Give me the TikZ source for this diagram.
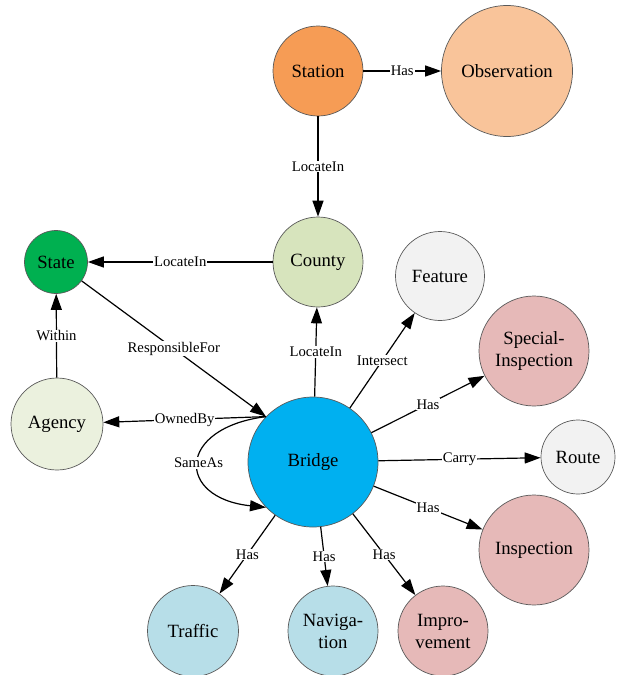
\documentclass[tikz,border=0pt]{standalone}
\usepackage{fontspec}
\setmainfont{Liberation Serif}
\newfontfamily\tnr{Liberation Serif}
\usetikzlibrary{arrows.meta}

\definecolor{stationc}{HTML}{F69C55}
\definecolor{obsc}{HTML}{F9C49A}
\definecolor{countyc}{HTML}{D7E4BD}
\definecolor{statec}{HTML}{00B050}
\definecolor{agencyc}{HTML}{EBF1DE}
\definecolor{bridgec}{HTML}{00B0F0}
\definecolor{greyc}{HTML}{F2F2F2}
\definecolor{pinkc}{HTML}{E6B9B8}
\definecolor{bluec}{HTML}{B7DEE8}

\begin{document}
\begin{tikzpicture}[
    x=1pt, y=-1pt,
    -{Triangle[length=16pt,width=11pt]},
    line width=1.2pt
]
\tikzstyle{unit}=[circle, draw=black!65, line width=0.7pt, inner sep=0pt, align=center, font=\tnr\fontsize{18.7}{22}\selectfont]
\tikzstyle{lbl}=[fill=white, inner sep=1pt, font=\tnr\fontsize{14.7}{16}\selectfont]

\useasboundingbox (0,0) rectangle (617,675);

% Upper row
\node[unit, fill=stationc, minimum size=90pt] (station) at (318,71) {Station};
\node[unit, fill=obsc, minimum size=131pt] (obs) at (507,71) {Observation};

% Middle
\node[unit, fill=countyc, minimum size=90pt] (county) at (318,262) {County};
\node[unit, fill=statec, minimum size=63pt] (state) at (56,262) {State};
\node[unit, fill=greyc, minimum size=89pt] (feature) at (440,276) {Feature};
\node[unit, fill=pinkc, minimum size=110pt] (special) at (534,351) {Special-\\Inspection};
\node[unit, fill=agencyc, minimum size=92pt] (agency) at (57,424) {Agency};
\node[unit, fill=bridgec, minimum size=130pt] (bridge) at (313,462) {Bridge};
\node[unit, fill=greyc, minimum size=74pt] (route) at (578,457) {Route};
\node[unit, fill=pinkc, minimum size=110pt] (insp) at (534,550) {Inspection};

% Lower row
\node[unit, fill=bluec, minimum size=91pt] (traffic) at (193,631) {Traffic};
\node[unit, fill=bluec, minimum size=90pt] (navig) at (333,631) {Naviga-\\tion};
\node[unit, fill=pinkc, minimum size=90pt] (improv) at (443,631) {Impro-\\vement};

% Connections
\draw (station) -- node[lbl] {Has} (obs);
\draw (station) -- node[lbl] {LocateIn} (county);
\draw (county) -- node[lbl] {LocateIn} (state);
\draw (agency) -- node[lbl] {Within} (state);
\draw (state) -- node[lbl] {ResponsibleFor} (bridge.136);
\draw (bridge.136) -- node[lbl] {OwnedBy} (agency);
\draw (bridge.136) .. controls (176,428) and (176,498) .. node[lbl] {SameAs} (bridge.224);

\draw (bridge) -- node[lbl] {LocateIn} (county);
\draw (bridge) -- node[lbl] {Intersect} (feature);
\draw (bridge) -- node[lbl] {Has} (special);
\draw (bridge) -- node[lbl] {Carry} (route);
\draw (bridge) -- node[lbl] {Has} (insp);

\draw (bridge) -- node[lbl] {Has} (traffic);
\draw (bridge) -- node[lbl] {Has} (navig);
\draw (bridge) -- node[lbl] {Has} (improv);

\end{tikzpicture}
\end{document}
